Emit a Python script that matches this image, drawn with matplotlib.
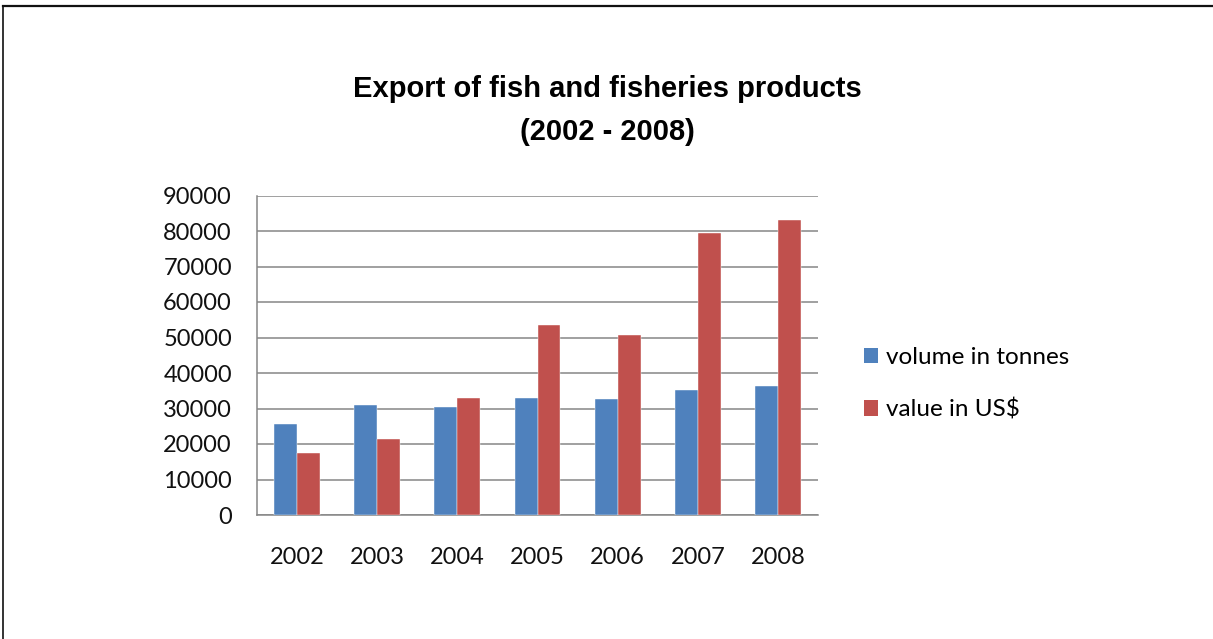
import matplotlib
matplotlib.use("Agg")
import matplotlib.pyplot as plt
import numpy as np
from matplotlib.lines import Line2D
from matplotlib.patches import Patch

years = ["2002", "2003", "2004", "2005", "2006", "2007", "2008"]
volume_tonnes = [25700, 31100, 30500, 33000, 32600, 35100, 36200]
value_usd = [17400, 21500, 33000, 53600, 50700, 79300, 83200]
y_ticks = [0, 10000, 20000, 30000, 40000, 50000, 60000, 70000, 80000, 90000]

blue = "#4F81BD"
red = "#C0504D"
grid_c = "#868686"
tick_font = "Lato"

W, H = 1213, 639
fig = plt.figure(figsize=(W / 100, H / 100), dpi=100)

ax = fig.add_axes([257 / W, 1 - 515 / H, (818 - 257) / W, (515 - 195.5) / H])
x = np.arange(len(years))
bw = 0.286
ax.bar(x - bw / 2, volume_tonnes, bw, color=blue, edgecolor="white", linewidth=0.3, zorder=3)
ax.bar(x + bw / 2, value_usd, bw, color=red, edgecolor="white", linewidth=0.3, zorder=3)

ax.set_xlim(-0.5, len(years) - 0.5)
ax.set_ylim(0, 90000)
ax.set_yticks(y_ticks)
ax.set_yticklabels([str(v) for v in y_ticks], fontfamily=tick_font, fontsize=17, color="#111111")
ax.set_xticks(x)
ax.set_xticklabels(years, fontfamily=tick_font, fontsize=17, color="#111111")
ax.tick_params(axis="y", length=0, pad=18)
ax.tick_params(axis="x", length=0, pad=23)
ax.yaxis.grid(True, color=grid_c, linewidth=1.1, zorder=0)
ax.set_axisbelow(True)
for s in ["top", "right"]:
    ax.spines[s].set_visible(False)
for s in ["left", "bottom"]:
    ax.spines[s].set_color(grid_c)
    ax.spines[s].set_linewidth(1.1)

handles = [Patch(facecolor=blue, label="volume in tonnes"),
           Patch(facecolor=red, label="value in US$")]
fig.legend(handles=handles, loc="center left", bbox_to_anchor=(842 / W, 1 - 384 / H),
           frameon=False, prop={"family": tick_font, "size": 17.5},
           handlelength=0.6, handleheight=0.6, handletextpad=0.3, labelspacing=1.25)

fig.text(607 / W, 1 - 89 / H, "Export of fish and fisheries products", ha="center", va="center",
         fontfamily="Liberation Sans", fontweight="bold", fontsize=21)
fig.text(607 / W, 1 - 132 / H, "(2002 - 2008)", ha="center", va="center",
         fontfamily="Liberation Sans", fontweight="bold", fontsize=21)

fig.add_artist(Line2D([3 / W, 1], [1 - 6 / H, 1 - 6 / H], transform=fig.transFigure, color="#111111", linewidth=1.6))
fig.add_artist(Line2D([3 / W, 3 / W], [0, 1 - 6 / H], transform=fig.transFigure, color="#111111", linewidth=1.2))

fig.savefig("out.png", dpi=100)
